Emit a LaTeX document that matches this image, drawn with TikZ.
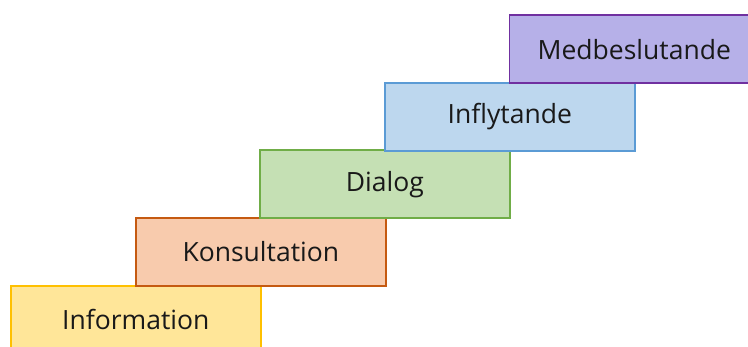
\documentclass[tikz,border=0pt]{standalone}
\usepackage{fontspec}
\setmainfont{Open Sans}
\definecolor{infofill}{HTML}{FFE699}
\definecolor{infoline}{HTML}{FFC000}
\definecolor{konsfill}{HTML}{F8CBAD}
\definecolor{konsline}{HTML}{C55A11}
\definecolor{dialfill}{HTML}{C5E0B4}
\definecolor{dialline}{HTML}{70AD47}
\definecolor{inflfill}{HTML}{BDD7EE}
\definecolor{inflline}{HTML}{5B9BD5}
\definecolor{medbfill}{HTML}{B6B0E8}
\definecolor{medbline}{HTML}{7030A0}
\begin{document}
\begin{tikzpicture}[x=1pt,y=-1pt,
  stair/.style={draw, line width=1.6pt, anchor=north west, minimum width=250pt,
    minimum height=68pt, inner sep=0pt, text=black!90,
    font=\fontsize{26.5}{31}\selectfont}]
\useasboundingbox (0,0) rectangle (748,347);
\clip (0,0) rectangle (748,347);
\node[stair, fill=infofill, draw=infoline] (info) at (10,285) {Information};
\node[stair, fill=konsfill, draw=konsline] (kons) at (135,217) {Konsultation};
\node[stair, fill=dialfill, draw=dialline] (dial) at (259,149.5) {Dialog};
\node[stair, fill=inflfill, draw=inflline] (infl) at (384,82) {Inflytande};
\node[stair, fill=medbfill, draw=medbline] (medb) at (508.5,14.5) {Medbeslutande};
\end{tikzpicture}
\end{document}
